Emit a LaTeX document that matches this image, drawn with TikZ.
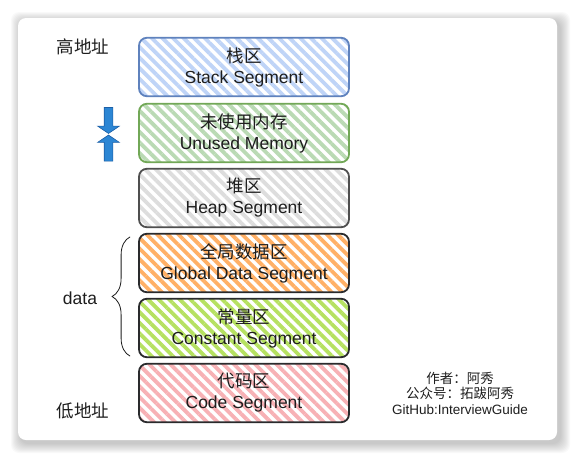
\documentclass[tikz,border=0pt]{standalone}
\usepackage{fontspec}
\setmainfont{Liberation Sans}
\newfontfamily\cjk{Noto Sans CJK SC}
\usetikzlibrary{positioning,patterns.meta,shapes.arrows,decorations.pathreplacing}
\definecolor{stackhatch}{HTML}{BFD4F7}
\definecolor{stackline}{HTML}{5F82BD}
\definecolor{unusedhatch}{HTML}{BADAB4}
\definecolor{unusedline}{HTML}{72A857}
\definecolor{heaphatch}{HTML}{DDDDDD}
\definecolor{heapline}{HTML}{4F4F4F}
\definecolor{globalhatch}{HTML}{FFB066}
\definecolor{consthatch}{HTML}{B6E161}
\definecolor{codehatch}{HTML}{F7B1B5}
\definecolor{darkline}{HTML}{2A2B2D}
\definecolor{textgray}{HTML}{1E1E1E}
\definecolor{arrowblue}{HTML}{2C86D4}
\definecolor{arrowedge}{HTML}{1C5FA6}
\newcommand{\seglabel}[2]{{\cjk #1}\\#2}
\tikzset{
  seg/.style 2 args={draw=#2, line width=1.8pt, rounded corners=8pt,
    pattern={Lines[angle=-45,distance=7.5pt,line width=3.8pt]}, pattern color=#1,
    minimum width=210pt, minimum height=58.5pt, inner sep=0pt, align=center,
    text=textgray, font=\fontsize{17.5}{21}\selectfont},
  sidelabel/.style={text=textgray, font=\fontsize{17.5}{21}\selectfont},
  dirarrow/.style={single arrow, draw=arrowedge, fill=arrowblue, line width=0.6pt,
    inner sep=4pt, single arrow head extend=6.5pt, single arrow tip angle=112,
    minimum height=26pt},
  credit/.style={align=center, text=textgray, font=\fontsize{13.5}{15.5}\selectfont}
}
\begin{document}
\begin{tikzpicture}[x=1pt,y=-1pt]
	\useasboundingbox (0,0) rectangle (576,459);
	% card with soft shadow
	\foreach \k in {1,...,10}
		\fill[black, opacity=0.022, rounded corners=8pt] ({21-\k},{22-\k}) rectangle ({560+\k},{443+\k});
	\fill[white, rounded corners=8pt] (18,18) rectangle (557,440);

	\node[seg={stackhatch}{stackline}] (stack) at (244,67) {\seglabel{栈区}{Stack Segment}};
	\node[seg={unusedhatch}{unusedline}, below=4.7pt of stack] (unused) {\seglabel{未使用内存}{Unused Memory}};
	\node[seg={heaphatch}{heapline}, below=4.7pt of unused] (heap) {\seglabel{堆区}{Heap Segment}};
	\node[seg={globalhatch}{darkline}, below=4.7pt of heap] (global) {\seglabel{全局数据区}{Global Data Segment}};
	\node[seg={consthatch}{darkline}, below=4.7pt of global] (const) {\seglabel{常量区}{Constant Segment}};
	\node[seg={codehatch}{darkline}, below=4.7pt of const] (code) {\seglabel{代码区}{Code Segment}};

	\node[sidelabel] (high) at (83,47) {\cjk 高地址};
	\node[sidelabel] (low) at (83,411) {\cjk 低地址};
	\node[sidelabel] (data) at (80,298) {data};
	\draw[textgray, line width=0.8pt, decorate, decoration={brace, amplitude=18pt}]
		([xshift=-8pt,yshift=2pt]const.south west) -- ([xshift=-8pt,yshift=-4pt]global.north west);

	\node[dirarrow, shape border rotate=270] (stackgrow) at (108.5,119) {};
	\node[dirarrow, shape border rotate=90] (heapgrow) at (108.5,149.5) {};

	\node[credit] (author) at (460,393) {{\cjk 作者：阿秀}\\{\cjk 公众号：拓跋阿秀}\\GitHub:InterviewGuide};
\end{tikzpicture}
\end{document}
